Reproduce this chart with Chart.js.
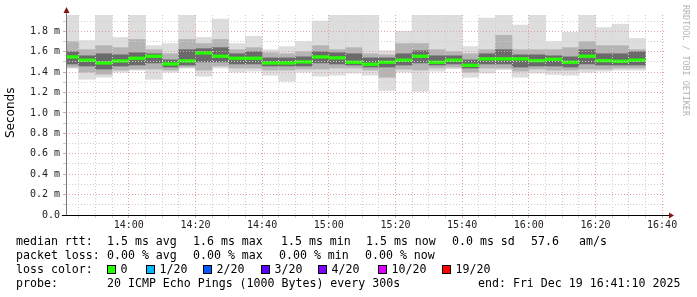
<!DOCTYPE html>
<html><head><meta charset="utf-8">
<script src="https://cdn.jsdelivr.net/npm/chart.js@4/dist/chart.umd.min.js"></script>
<style>
html,body{margin:0;padding:0;background:#fff;}
#wrap{position:relative;width:697px;height:297px;overflow:hidden;background:#fff;}
#c{position:absolute;left:0;top:0;}
.t{position:absolute;font-family:'DejaVu Sans Mono',monospace;font-size:11.6px;line-height:14px;white-space:pre;color:#000;}
.sq{position:absolute;width:7px;height:7px;border:1px solid #000;}
#ylab{position:absolute;left:3px;top:88px;height:50px;width:14px;font-family:'DejaVu Sans',sans-serif;font-size:12px;line-height:14px;writing-mode:vertical-rl;transform:rotate(180deg);color:#000;text-align:center;}
#rrd{position:absolute;left:680px;top:5px;font-family:'DejaVu Sans Mono',monospace;font-size:8.4px;line-height:12px;writing-mode:vertical-rl;color:#b4b4b4;white-space:pre;}
</style></head>
<body>
<div id="wrap">
<canvas id="c" width="697" height="235"></canvas>
<div id="ylab">Seconds</div>
<div id="rrd">RRDTOOL / TOBI OETIKER</div>
<div id="legend"></div>
</div>
<script>
// ---- data (values in milliseconds) ----
const endTimes = ['13:45','13:50','13:55','14:00','14:05','14:10','14:15','14:20','14:25','14:30','14:35','14:40',
  '14:45','14:50','14:55','15:00','15:05','15:10','15:15','15:20','15:25','15:30','15:35','15:40','15:45','15:50',
  '15:55','16:00','16:05','16:10','16:15','16:20','16:25','16:30','16:35'];
const medianRtt = [1.549,1.517,1.49,1.51,1.536,1.556,1.48,1.51,1.588,1.556,1.536,1.536,1.49,1.49,1.50,1.549,1.54,1.497,
  1.477,1.497,1.517,1.556,1.497,1.517,1.467,1.53,1.53,1.53,1.513,1.526,1.497,1.556,1.513,1.507,1.517];
const minRtt = [1.44,1.33,1.35,1.40,1.42,1.33,1.40,1.44,1.36,1.44,1.40,1.41,1.37,1.31,1.40,1.36,1.37,1.39,1.37,1.22,
  1.40,1.21,1.41,1.435,1.35,1.39,1.425,1.35,1.39,1.377,1.37,1.40,1.41,1.42,1.42];
const maxRtt = [1.96,1.71,1.96,1.74,1.96,1.66,1.68,1.96,1.74,1.92,1.68,1.75,1.62,1.65,1.70,1.90,1.96,1.96,1.96,1.61,
  1.80,1.96,1.96,1.96,1.65,1.93,1.96,1.86,1.96,1.70,1.79,1.96,1.837,1.87,1.73];
const smokeLow = [1.45,1.40,1.38,1.42,1.43,1.43,1.42,1.45,1.42,1.46,1.44,1.44,1.42,1.42,1.43,1.43,1.44,1.44,1.42,1.35,
  1.43,1.42,1.44,1.45,1.40,1.44,1.44,1.41,1.43,1.42,1.42,1.43,1.43,1.44,1.44];
const smokeHigh = [1.70,1.62,1.66,1.64,1.72,1.62,1.58,1.72,1.68,1.72,1.62,1.64,1.59,1.58,1.60,1.66,1.62,1.64,1.58,1.57,
  1.68,1.68,1.62,1.60,1.58,1.62,1.76,1.62,1.62,1.62,1.64,1.70,1.66,1.66,1.62];
const coreLow = [1.48,1.46,1.43,1.46,1.47,1.49,1.45,1.47,1.50,1.50,1.48,1.48,1.46,1.46,1.46,1.49,1.48,1.47,1.45,1.45,
  1.47,1.49,1.47,1.48,1.44,1.48,1.48,1.45,1.46,1.46,1.45,1.48,1.47,1.47,1.47];
const coreHigh = [1.60,1.56,1.58,1.57,1.59,1.58,1.52,1.62,1.63,1.64,1.58,1.60,1.54,1.54,1.55,1.60,1.59,1.58,1.54,1.54,
  1.58,1.61,1.56,1.56,1.52,1.58,1.62,1.57,1.57,1.56,1.55,1.62,1.58,1.58,1.60];
const yTickValues = [0,0.1,0.2,0.3,0.4,0.5,0.6,0.7,0.8,0.9,1.0,1.1,1.2,1.3,1.4,1.5,1.6,1.7,1.8,1.9];
const xRangeStart = '13:41:10', xRangeEnd = '16:41:10';
const stepMinutes = 5;

// ---- helpers ----
function toMin(s){const p=s.split(':').map(Number);return p[0]*60+p[1]+(p[2]||0)/60;}
function fmt(m){const h=Math.floor(m/60),mm=m%60;return String(h).padStart(2,'0')+':'+String(mm).padStart(2,'0');}
const XMIN = toMin(xRangeStart), XMAX = toMin(xRangeEnd);
const centers = endTimes.map(t => toMin(t) - stepMinutes/2);
const MED_HALF = 0.013;
const xTicks = [];
for (let m = Math.ceil(XMIN/5)*5; m <= XMAX; m += 5) xTicks.push(m);

const MAJOR = '#e3a3a3', MINOR = '#cfcfcf';
function band(lo, hi){ return centers.map((x,i)=>({x, y:[lo[i], hi[i]]})); }

const axisPlugin = {
  id:'rrdaxes',
  afterDraw(chart){
    const {ctx, chartArea:a} = chart;
    ctx.save();
    ctx.strokeStyle = '#777'; ctx.lineWidth = 1;
    ctx.beginPath(); ctx.moveTo(a.left+0.5, a.bottom); ctx.lineTo(a.left+0.5, 11); ctx.stroke();
    ctx.fillStyle = '#801515';
    ctx.beginPath(); ctx.moveTo(a.left-2.5, 13); ctx.lineTo(a.left+3.5, 13); ctx.lineTo(a.left+0.5, 7); ctx.closePath(); ctx.fill();
    ctx.strokeStyle = '#000';
    ctx.beginPath(); ctx.moveTo(a.left-4, a.bottom+0.5); ctx.lineTo(a.right+4, a.bottom+0.5); ctx.stroke();
    ctx.beginPath(); ctx.moveTo(a.right+3, a.bottom-2.5); ctx.lineTo(a.right+3, a.bottom+3.5); ctx.lineTo(a.right+8, a.bottom+0.5); ctx.closePath(); ctx.fill();
    ctx.restore();
  }
};

new Chart(document.getElementById('c'), {
  type:'bar',
  data:{datasets:[
    {label:'median', data: centers.map((x,i)=>({x, y:[medianRtt[i]-MED_HALF, medianRtt[i]+MED_HALF]})), backgroundColor:'#26ff00', order:0},
    {label:'core', data: band(coreLow, coreHigh), backgroundColor:'#6a6a6a', order:1},
    {label:'smoke', data: band(smokeLow, smokeHigh), backgroundColor:'#b4b4b4', order:2},
    {label:'range', data: band(minRtt, maxRtt), backgroundColor:'#dddddd', order:3}
  ]},
  options:{
    animation:false, responsive:false, devicePixelRatio:1,
    datasets:{bar:{grouped:false, categoryPercentage:1, barPercentage:1, borderWidth:0, clip:0}},
    plugins:{legend:{display:false}, tooltip:{enabled:false}},
    layout:{padding:{top:15, right:31, left:0, bottom:0}},
    scales:{
      x:{type:'linear', min:XMIN, max:XMAX, offset:false,
        grid:{offset:false, z:1, tickLength:3, color:c=> (Math.round(c.tick.value)%20===0?MAJOR:MINOR)},
        border:{display:false, dash:[1,2]},
        ticks:{autoSkip:false, maxRotation:0, padding:1, color:'#222', font:{family:'DejaVu Sans Mono', size:10},
          callback:v=>{const m=Math.round(v); return m%20===0?fmt(m):'';}},
        afterBuildTicks:s=>{s.ticks = xTicks.map(v=>({value:v}));},
        afterFit:s=>{s.height=20;}
      },
      y:{min:0, max:1.96,
        grid:{z:1, tickLength:3, color:c=> (Math.round(c.tick.value*10)%2===0?MAJOR:MINOR)},
        border:{display:false, dash:[1,2]},
        ticks:{autoSkip:false, padding:3, color:'#222', font:{family:'DejaVu Sans Mono', size:10},
          callback:v=>{const k=Math.round(v*10); if(k%2) return ''; return k===0?'0.0':(k/10).toFixed(1)+' m';}},
        afterBuildTicks:s=>{s.ticks = yTickValues.map(v=>({value:v}));},
        afterFit:s=>{s.width=66;}
      }
    }
  },
  plugins:[axisPlugin]
});

// ---- legend (text) ----
const lossColors = [['0','#26ff00'],['1/20','#00b8ff'],['2/20','#0059ff'],['3/20','#5e00ff'],['4/20','#7e00ff'],['10/20','#dd00ff'],['19/20','#ff0000']];
const sqX = [107,146,203,261,318,378,442];
const legendLines = [
  [[16,'median rtt:'],[107,'1.5 ms avg'],[193,'1.6 ms max'],[281,'1.5 ms min'],[366,'1.5 ms now'],[452,'0.0 ms sd'],[531,'57.6'],[579,'am/s']],
  [[16,'packet loss:'],[107,'0.00 % avg'],[193,'0.00 % max'],[279,'0.00 % min'],[365,'0.00 % now']],
  [[16,'loss color:']],
  [[16,'probe:'],[107,'20 ICMP Echo Pings (1000 Bytes) every 300s'],[478,'end: Fri Dec 19 16:41:10 2025']]
];
const lineY = [241,255,269,283];
const wrap = document.getElementById('wrap');
function addText(x, yc, s){const d=document.createElement('div');d.className='t';d.style.left=x+'px';d.style.top=(yc-7)+'px';d.textContent=s;wrap.appendChild(d);}
legendLines.forEach((ln,i)=>ln.forEach(([x,s])=>addText(x,lineY[i],s)));
lossColors.forEach(([lab,col],i)=>{
  const q=document.createElement('div');q.className='sq';q.style.left=sqX[i]+'px';q.style.top='265px';q.style.background=col;wrap.appendChild(q);
  addText(sqX[i]+13.5, lineY[2], lab);
});
</script>
</body></html>
